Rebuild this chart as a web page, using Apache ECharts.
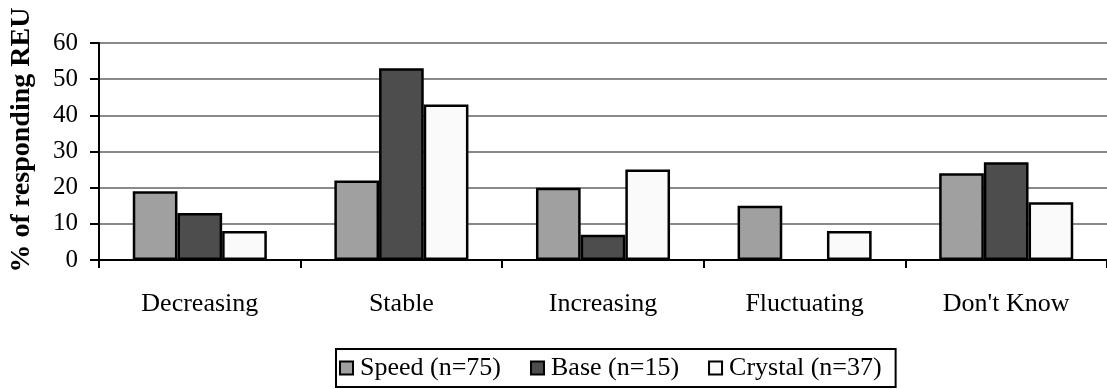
<!DOCTYPE html>
<html>
<head>
<meta charset="utf-8">
<script src="https://cdn.jsdelivr.net/npm/echarts@6/dist/echarts.min.js"></script>
<style>
  html, body { margin: 0; padding: 0; background: #ffffff; }
  #chart { width: 1107px; height: 389px; }
</style>
</head>
<body>
<div id="chart"></div>
<script>
// Trend categories and share of responding REU per study group (%)
const categories = ['Decreasing', 'Stable', 'Increasing', 'Fluctuating', "Don't Know"];
const speed   = [19, 22, 20, 15, 24];
const base    = [13, 53, 7, 0, 27];
const crystal = [8, 43, 25, 8, 16];
const seriesNames = ['Speed (n=75)', 'Base (n=15)', 'Crystal (n=37)'];
const yTicks = [0, 10, 20, 30, 40, 50, 60];

const FONT = '"Liberation Serif", "Times New Roman", serif';

const chart = echarts.init(document.getElementById('chart'), null, { renderer: 'canvas' });

function barSeries(name, data, color) {
  return {
    name: name,
    type: 'bar',
    // a zero share gets no outline, so nothing is drawn on the axis
    data: data.map(v => v === 0 ? { value: v, itemStyle: { borderWidth: 0 } } : v),
    barGap: '0%',
    barCategoryGap: '33.5%',
    itemStyle: { color: color, borderColor: '#000000', borderWidth: 2.5 },
    emphasis: { disabled: true }
  };
}

chart.setOption({
  animation: false,
  backgroundColor: '#ffffff',
  grid: { left: 99, right: -8, top: 43, bottom: 129, containLabel: false },
  legend: {
    left: 336,
    top: 349,
    padding: [6, 14, 6, 3],
    itemGap: 29,
    itemWidth: 13,
    itemHeight: 13,
    borderColor: '#000000',
    borderWidth: 2,
    icon: 'rect',
    textStyle: { fontFamily: FONT, fontSize: 26, color: '#000000', padding: [0, 0, 0, 2] },
    data: seriesNames
  },
  xAxis: {
    type: 'category',
    data: categories,
    boundaryGap: true,
    axisLine: { lineStyle: { color: '#000000', width: 2 } },
    axisTick: { show: true, length: 8, alignWithLabel: false, lineStyle: { color: '#000000', width: 2 } },
    axisLabel: { margin: 31, fontFamily: FONT, fontSize: 26, color: '#000000' }
  },
  yAxis: {
    type: 'value',
    min: yTicks[0],
    max: yTicks[yTicks.length - 1],
    interval: 10,
    axisLine: { show: true, lineStyle: { color: '#000000', width: 2 } },
    axisTick: { show: true, length: 9, lineStyle: { color: '#000000', width: 2 } },
    axisLabel: { margin: 21, fontFamily: FONT, fontSize: 25, color: '#000000' },
    splitLine: { show: true, lineStyle: { color: '#8a8a8a', width: 2 } }
  },
  graphic: [{
    type: 'text',
    x: 22,
    y: 140,
    rotation: Math.PI / 2,
    style: {
      text: '% of responding REU',
      fontFamily: FONT,
      fontWeight: 'bold',
      fontSize: 28,
      fill: '#000000',
      align: 'center',
      verticalAlign: 'middle'
    }
  }],
  series: [
    barSeries(seriesNames[0], speed, '#a0a0a0'),
    barSeries(seriesNames[1], base, '#4d4d4d'),
    barSeries(seriesNames[2], crystal, '#fafafa')
  ]
});
</script>
</body>
</html>
